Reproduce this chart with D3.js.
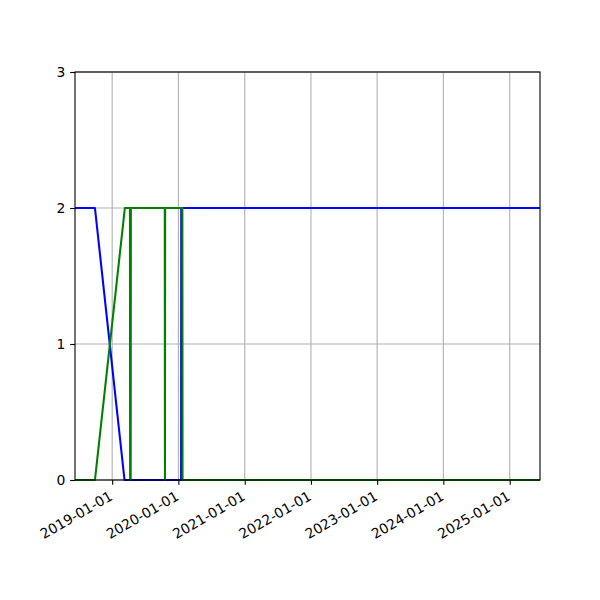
<!DOCTYPE html>
<html>
<head>
<meta charset="utf-8">
<script src="https://cdn.jsdelivr.net/npm/d3@7"></script>
<style>
  body { margin: 0; background: #fff; }
  svg { display: block; font-family: "DejaVu Sans", sans-serif; }
</style>
</head>
<body>
<svg id="chart" width="600" height="600"></svg>
<script>
// Data
const xDomain = ["2018-06-10", "2025-06-17"];
const yTicks = [0, 1, 2, 3];
const xTickLabels = ["2019-01-01", "2020-01-01", "2021-01-01", "2022-01-01", "2023-01-01", "2024-01-01", "2025-01-01"];

const blueDates = ["2018-06-10", "2018-09-28", "2019-03-10", "2020-01-16", "2020-01-17", "2025-06-17"];
const blueValues = [2, 2, 0, 0, 2, 2];

const greenDates = ["2018-06-10", "2018-09-28", "2019-03-12", "2019-04-09", "2019-04-10", "2019-04-13", "2019-04-14",
                    "2019-10-18", "2019-10-19", "2019-10-20", "2020-01-23", "2020-01-24", "2025-06-17"];
const greenValues = [0, 0, 2, 2, 0, 0, 2, 2, 0, 2, 2, 0, 0];

const parse = d3.utcParse("%Y-%m-%d");
const svg = d3.select("#chart");
const L = 75, R = 540, T = 72, B = 480;

const x = d3.scaleUtc().domain(xDomain.map(parse)).range([L, R]);
const y = d3.scaleLinear().domain([0, 3]).range([B, T]);

const gridColor = "#b0b0b0";
const xTicks = xTickLabels.map(parse);

// grid
svg.append("g").selectAll("line").data(xTicks).join("line")
  .attr("x1", d => x(d)).attr("x2", d => x(d))
  .attr("y1", T).attr("y2", B)
  .attr("stroke", gridColor).attr("stroke-width", 1.1);
svg.append("g").selectAll("line").data(yTicks).join("line")
  .attr("x1", L).attr("x2", R)
  .attr("y1", d => y(d)).attr("y2", d => y(d))
  .attr("stroke", gridColor).attr("stroke-width", 1.1);

// lines
const line = d3.line().x(d => x(d[0])).y(d => y(d[1]));

const blue = blueDates.map((d, i) => [parse(d), blueValues[i]]);
const green = greenDates.map((d, i) => [parse(d), greenValues[i]]);

svg.append("path").datum(blue).attr("d", line)
  .attr("fill", "none").attr("stroke", "#0000ff").attr("stroke-width", 2.08)
  .attr("stroke-linejoin", "round").attr("stroke-linecap", "butt");
svg.append("path").datum(green).attr("d", line)
  .attr("fill", "none").attr("stroke", "#008000").attr("stroke-width", 2.08)
  .attr("stroke-linejoin", "round").attr("stroke-linecap", "butt");

// axes
const xAxis = d3.axisBottom(x).tickValues(xTicks).tickFormat(d3.utcFormat("%Y-%m-%d"))
  .tickSize(4.86).tickPadding(4.86);
const gx = svg.append("g").attr("transform", `translate(0,${B})`).call(xAxis);
gx.select(".domain").remove();
gx.selectAll(".tick line").attr("stroke", "#000").attr("stroke-width", 1.1);
gx.selectAll(".tick text")
  .attr("font-size", 13.9).attr("font-family", "DejaVu Sans").attr("fill", "#000")
  .attr("text-anchor", "end")
  .attr("dy", null).attr("y", null)
  .attr("transform", "translate(1,19) rotate(-30)");

const yAxis = d3.axisLeft(y).tickValues(yTicks).tickFormat(d3.format("d"))
  .tickSize(4.86).tickPadding(4.86);
const gy = svg.append("g").attr("transform", `translate(${L},0)`).call(yAxis);
gy.select(".domain").remove();
gy.selectAll(".tick line").attr("stroke", "#000").attr("stroke-width", 1.1);
gy.selectAll(".tick text").attr("font-size", 13.9).attr("font-family", "DejaVu Sans").attr("fill", "#000");

// frame
svg.append("rect").attr("x", L).attr("y", T).attr("width", R - L).attr("height", B - T)
  .attr("fill", "none").attr("stroke", "#000").attr("stroke-width", 1.1);
</script>
</body>
</html>
